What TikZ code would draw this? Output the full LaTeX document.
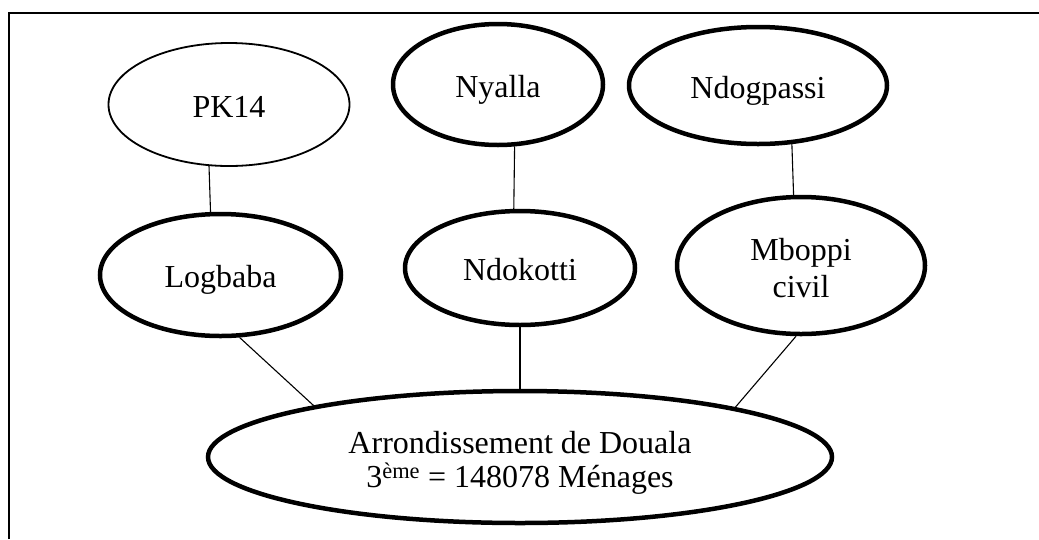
\documentclass[tikz,border=0pt]{standalone}
\usepackage{fontspec}
\setmainfont{Liberation Serif}
\usetikzlibrary{shapes.geometric}
% two centred lines; #1 lifts the first baseline above the node centre, #4 adds to the line gap
\newcommand{\pairlines}[4]{\raisebox{#1}[0pt][0pt]{\begin{tabular}[t]{@{}c@{}}#2\\[#4]#3\end{tabular}}}
\begin{document}
\begin{tikzpicture}[x=1pt,y=-1pt,
  zone/.style={ellipse,draw,line width=4.5pt,inner sep=0pt,
    font=\fontsize{32}{34}\selectfont},
  oneline/.style={text height=25pt,text depth=0pt},
  thinzone/.style={zone,line width=1.8pt},
  link/.style={line width=1.1pt},
  frame/.style={line width=2.4pt}]
\useasboundingbox (0,0) rectangle (1039,539);
% open frame: top and left edges
\draw[frame] (9,539) -- (9,13) -- (1039,13);

% upper row
\node[thinzone,oneline,minimum width=241pt,minimum height=123pt] (pk) at (229,104.5) {PK14};
\node[zone,oneline,minimum width=210pt,minimum height=121pt] (nyalla) at (498,84.5) {Nyalla};
\node[zone,oneline,minimum width=258pt,minimum height=117pt] (ndogpassi) at (758,85.5) {Ndogpassi};

% middle row
\node[zone,oneline,minimum width=241pt,minimum height=122pt] (logbaba) at (220.5,275) {Logbaba};
\node[zone,oneline,minimum width=230pt,minimum height=114pt] (ndokotti) at (520,268) {Ndokotti};
\node[zone,minimum width=248pt,minimum height=137pt] (mboppi) at (801,265.5)
  {\pairlines{5.5pt}{Mboppi}{civil}{3pt}};

% district
\node[zone,minimum width=624pt,minimum height=132pt] (douala) at (520,457)
  {\pairlines{4pt}{Arrondissement de Douala}{3\textsuperscript{ème} = 148078 Ménages}{0pt}};

% connectors
\draw[link] (pk.252.6) -- (logbaba.99.8);
\draw[link] (nyalla.285) -- (ndokotti.96);
\draw[link] (ndogpassi.300.2) -- (mboppi.96.7);
\draw[link] (logbaba.287.5) -- (douala.166.7);
\draw[link] (ndokotti.south) -- (douala.north);
\draw[link] (mboppi.266.7) -- (douala.13.8);
\end{tikzpicture}
\end{document}
